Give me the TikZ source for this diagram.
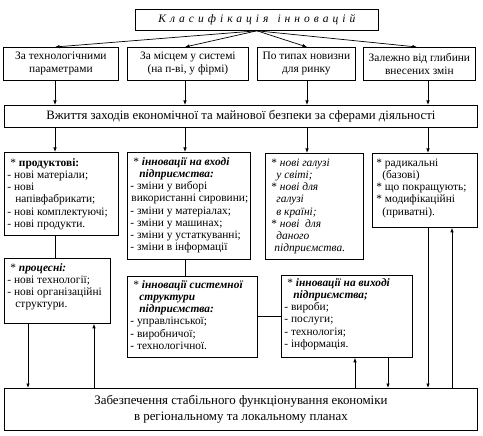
\documentclass[tikz,border=0pt]{standalone}
\usepackage{fontspec}
\setmainfont{Liberation Serif}
\usetikzlibrary{arrows.meta}
\newcommand\fsb{\fontsize{11.4}{12.2}\selectfont}
\newcommand\fl{\rule{0pt}{8pt}}
\newcommand\ind[1]{\hspace*{#1pt}}
\newcommand\tbox[7]{%
  \node[frm,anchor=north west,inner sep=0pt] (#1) at (#2,#3)
  {\parbox[t][\dimexpr #5pt-#3pt\relax][t]{\dimexpr #4pt-#2pt\relax}{\fsb\raggedright\leftskip=3pt\vspace*{#6pt}\fl #7}};}
\newcommand\cbox[7]{%
  \node[frm,anchor=north west,inner sep=0pt,align=center,
    minimum width={#4pt-#2pt},minimum height={#5pt-#3pt},#6] (#1) at (#2,#3) {#7};}
\begin{document}
\begin{tikzpicture}[x=1pt,y=-1pt,
  frm/.style={draw,line width=0.8pt,fill=white},
  arr/.style={-{Latex[length=4.5pt,width=3.5pt]},line width=0.7pt},
  ln/.style={line width=0.7pt}]
\useasboundingbox (0,0) rectangle (483,436);
% title
\cbox{title}{135}{9}{378}{30}{font=\fontsize{11.5}{13}\selectfont}
  {\itshape\addfontfeature{LetterSpace=35}Класифікація\hspace{9pt}інновацій}
% level 2
\cbox{b1}{3}{47}{118}{80}{font=\fontsize{11.4}{13}\selectfont}{За технологічними\\параметрами}
\cbox{b2}{127}{47}{248}{80}{font=\fontsize{11.4}{13}\selectfont}{За місцем у системі\\(на п-ві, у фірмі)}
\cbox{b3}{257}{47}{355}{80}{font=\fontsize{11.4}{13}\selectfont}{По типах новизни\\для ринку}
\cbox{b4}{363}{47}{475}{80}{font=\fontsize{11.4}{13}\selectfont}{Залежно від глибини\\внесених змін}
% band
\cbox{band}{4}{105}{477}{127}{font=\fontsize{12.8}{14}\selectfont}
  {Вжиття заходів економічної та майнової безпеки за сферами діяльності}
% level 3
\tbox{A}{4}{152}{118}{235}{6}{%
\ind{3}*~\textbf{продуктові:}\\
- нові матеріали;\\
- нові\\
\ind{8}напівфабрикати;\\
- нові~комплектуючі;\\
- нові продукти.}
\tbox{B}{127}{152}{250}{259}{5}{%
\ind{3}*~\textbf{\textit{інновації~на~вході}}\\
\ind{9}\textbf{\textit{підприємства:}}\\
- зміни у виборі\\
\ind{1}використанні~сировини;\\
- зміни у матеріалах;\\
- зміни у машинах;\\
- зміни~у~устаткуванні;\\
- зміни в інформації}
\tbox{C}{265}{153}{363}{259}{5}{%
\ind{3}*~\textit{нові галузі}\\
\ind{8}\textit{у світі;}\\
\ind{3}*~\textit{нові для}\\
\ind{8}\textit{галузі}\\
\ind{8}\textit{в країні;}\\
\ind{3}*~\textit{нові~~для}\\
\ind{8}\textit{даного}\\
\ind{6}\textit{підприємства.}}
\tbox{D}{372}{153}{477}{227}{5}{%
\ind{1}*~радикальні\\
\ind{7}(базові)\\
\ind{1}*~що~покращують;\\
\ind{1}*~модифікаційні\\
\ind{7}(приватні).}
\tbox{P}{4}{258}{110}{323}{5}{%
\ind{3}*~\textbf{\textit{процесні:}}\\
- нові технології;\\
- нові~організаційні\\
\ind{8}структури.}
\tbox{S}{127}{276}{257}{357}{4}{%
\ind{3}*~\textbf{\textit{інновації~системної}}\\
\ind{9}\textbf{\textit{структури}}\\
\ind{9}\textbf{\textit{підприємства:}}\\
- управлінської;\\
- виробничої;\\
- технологічної.}
\tbox{O}{281}{275}{412}{357}{3}{%
\ind{3}*~\textbf{\textit{інновації~на~виході}}\\
\ind{9}\textbf{\textit{підприємства;}}\\
- вироби;\\
- послуги;\\
- технологія;\\
- інформація.}
% bottom
\cbox{bot}{4}{388}{477}{430}{font=\fontsize{12.9}{15.5}\selectfont}
  {Забезпечення стабільного функціонування економіки\\в регіональному та локальному планах}
% column coordinates
\coordinate (k1) at (55,0);
\coordinate (k2) at (185,0);
\coordinate (k3) at (307,0);
\coordinate (k4) at (428,0);
\coordinate (t4) at (417,0);
\coordinate (p1) at (28,0);
\coordinate (p2) at (94,0);
\coordinate (o1) at (355,0);
\coordinate (o2) at (388,0);
\coordinate (d2) at (452,0);
\coordinate (r) at (0,316);
% title to level 2
\draw[arr] (title.south) -- (b1.north -| k1);
\draw[arr] (title.south) -- (b2.north -| k2);
\draw[arr] (title.south) -- (b3.north -| k3);
\draw[arr] (title.south) -- (b4.north -| t4);
% level 2 to band
\draw[arr] (b1.south -| k1) -- (band.north -| k1);
\draw[arr] (b2.south -| k2) -- (band.north -| k2);
\draw[arr] (b3.south -| k3) -- (band.north -| k3);
\draw[arr] (b4.south -| k4) -- (band.north -| k4);
% band to level 3
\draw[arr] (band.south -| k1) -- (A.north -| k1);
\draw[arr] (band.south -| k2) -- (B.north -| k2);
\draw[arr] (band.south -| k3) -- (C.north -| k3);
\draw[arr] (band.south -| k4) -- (D.north -| k4);
% internal links
\draw[ln] (A.south -| k1) -- (P.north -| k1);
\draw[ln] (B.south -| k2) -- (S.north -| k2);
\draw[ln] (S.east |- r) -- (O.west |- r);
% to/from bottom
\draw[arr] (P.south -| p1) -- (bot.north -| p1);
\draw[arr] (bot.north -| p2) -- (P.south -| p2);
\draw[arr] (bot.north -| o1) -- (O.south -| o1);
\draw[arr] (O.south -| o2) -- (bot.north -| o2);
\draw[arr] (D.south -| k4) -- (bot.north -| k4);
\draw[arr] (bot.north -| d2) -- (D.south -| d2);
\end{tikzpicture}
\end{document}
